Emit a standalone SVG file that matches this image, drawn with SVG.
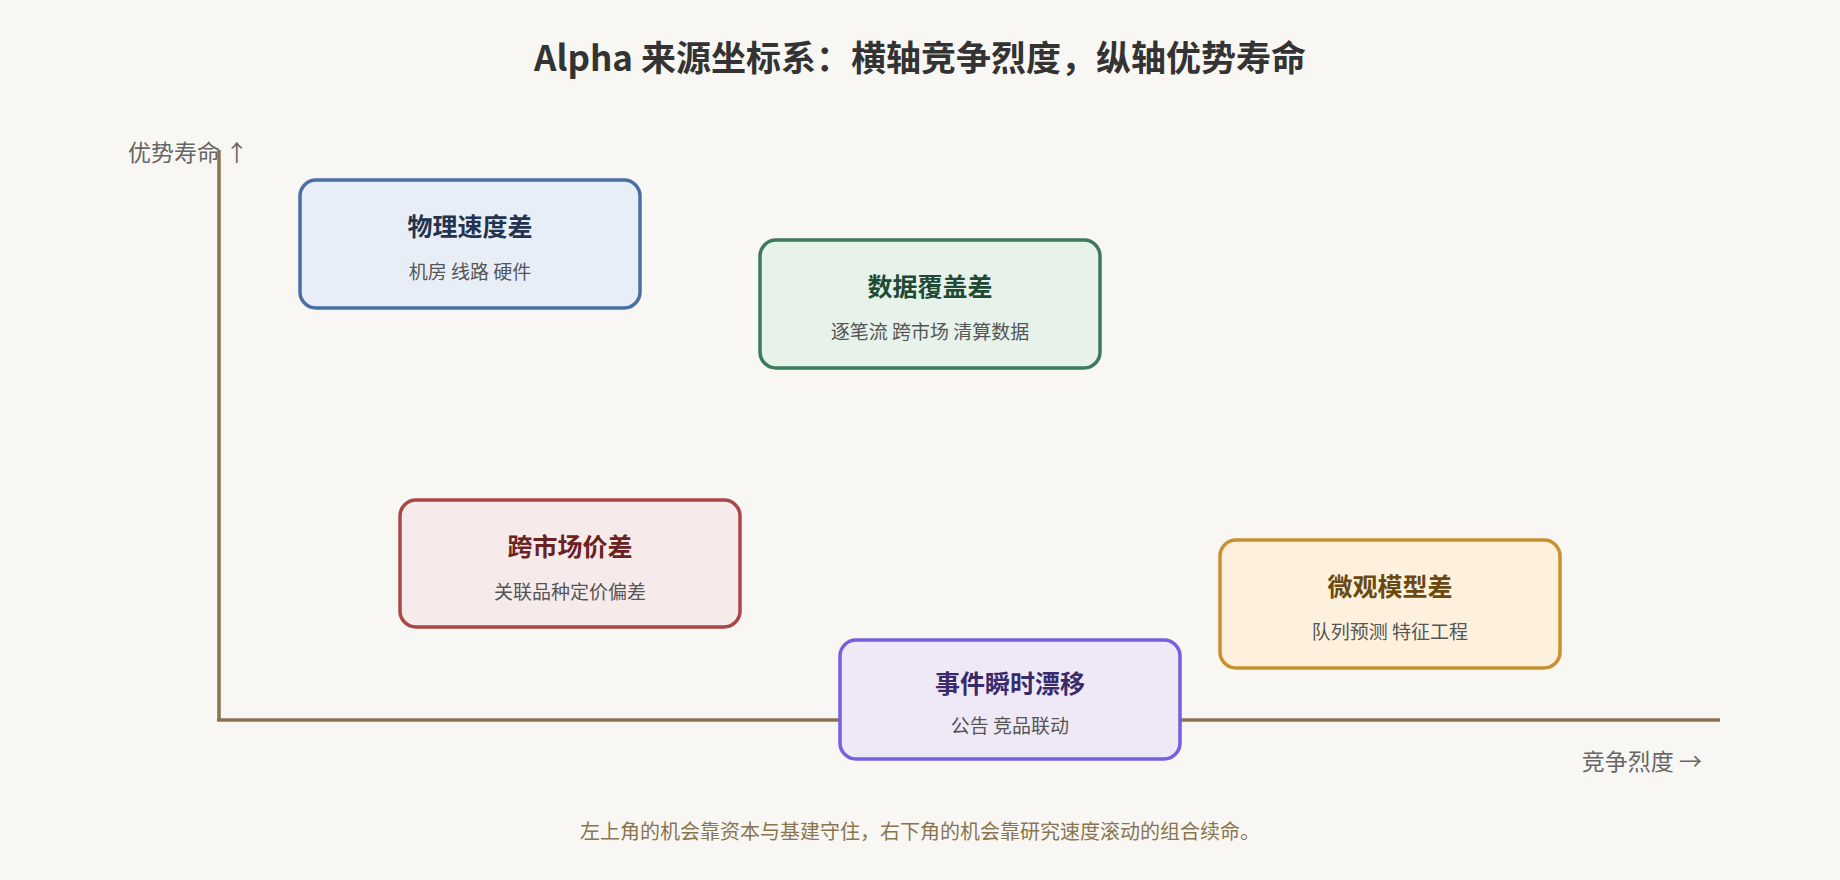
<svg xmlns="http://www.w3.org/2000/svg" width="1840" height="880" viewBox="0 0 1840 880">
<style>
text{font-family:"Noto Sans CJK SC","Noto Sans",sans-serif}
.t{font-size:25px;font-weight:bold;text-anchor:middle}
.s{font-size:19px;fill:#555;text-anchor:middle}
.box{stroke-width:3.5}
</style>
<rect width="1840" height="880" fill="#f9f7f3"/>
<text x="920" y="71" font-size="35" font-weight="bold" fill="#333" text-anchor="middle">Alpha 来源坐标系：横轴竞争烈度，纵轴优势寿命</text>
<g id="axes" stroke="#8a7550" stroke-width="3.5" fill="none">
<line x1="219" y1="150" x2="219" y2="720"/>
<line x1="217" y1="720" x2="1720" y2="720"/>
</g>
<text x="128" y="161" font-size="23" fill="#666">优势寿命 ↑</text>
<text x="1702" y="770" font-size="23" fill="#666" text-anchor="end">竞争烈度 →</text>
<g id="n1"><rect class="box" x="300" y="180" width="340" height="128" rx="16" fill="#e8eef7" stroke="#4a6fa5"/><text class="t" x="470" y="236" fill="#24344f">物理速度差</text><text class="s" x="470" y="279">机房 线路 硬件</text></g>
<g id="n2"><rect class="box" x="760" y="240" width="340" height="128" rx="16" fill="#e6f2ea" stroke="#3d7a5c"/><text class="t" x="930" y="296" fill="#1f4a33">数据覆盖差</text><text class="s" x="930" y="339">逐笔流 跨市场 清算数据</text></g>
<g id="n3"><rect class="box" x="400" y="500" width="340" height="127" rx="16" fill="#f7eaea" stroke="#a84848"/><text class="t" x="570" y="556" fill="#6a2222">跨市场价差</text><text class="s" x="570" y="599">关联品种定价偏差</text></g>
<g id="n4"><rect class="box" x="1220" y="540" width="340" height="128" rx="16" fill="#fdf1de" stroke="#c99030"/><text class="t" x="1390" y="596" fill="#6a4a10">微观模型差</text><text class="s" x="1390" y="639">队列预测 特征工程</text></g>
<g id="n5"><rect class="box" x="840" y="640" width="340" height="119" rx="16" fill="#efe9f7" stroke="#7560e0"/><text class="t" x="1010" y="693" fill="#3a2a6a">事件瞬时漂移</text><text class="s" x="1010" y="733">公告 竞品联动</text></g>
<g id="connectors"/>
<text x="920" y="839" font-size="20" fill="#8a7550" text-anchor="middle">左上角的机会靠资本与基建守住，右下角的机会靠研究速度滚动的组合续命。</text>
</svg>
